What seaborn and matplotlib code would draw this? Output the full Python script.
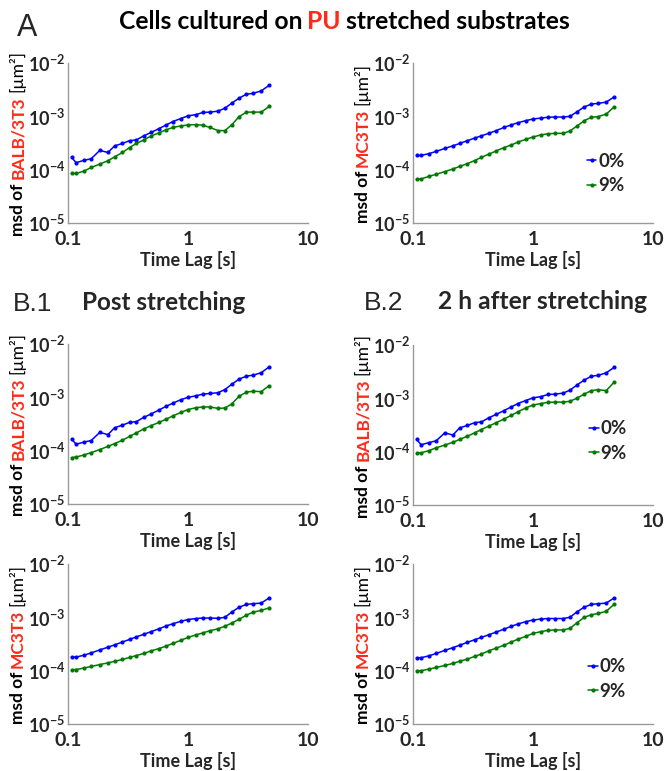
import numpy as np
import pandas as pd
import seaborn as sns
import matplotlib.pyplot as plt

sns.set_style("white")
plt.rcParams["font.family"] = ["Lato", "DejaVu Sans"]
plt.rcParams["font.weight"] = "bold"
plt.rcParams["mathtext.fontset"] = "custom"
plt.rcParams["mathtext.rm"] = "Lato:bold"
plt.rcParams["mathtext.bf"] = "Lato:bold"
plt.rcParams["mathtext.default"] = "bf"

RED = "#ff2a1a"
BLUE = "#0000ff"
GREEN = "#007a00"

# time lag [s]
lag = [0.107, 0.117, 0.136, 0.156, 0.184, 0.215, 0.245, 0.284, 0.326, 0.371,
       0.427, 0.494, 0.574, 0.659, 0.75, 0.87, 1.0, 1.17, 1.33, 1.52,
       1.78, 2.03, 2.31, 2.67, 3.07, 3.49, 4.08, 4.73]

# A - cells cultured on stretched PU
balb_a_0 = [1.70e-4, 1.35e-4, 1.50e-4, 1.60e-4, 2.3e-4, 2.1e-4, 2.8e-4, 3.1e-4, 3.5e-4, 3.6e-4,
            4.3e-4, 5.0e-4, 5.9e-4, 6.9e-4, 8.0e-4, 9.1e-4, 1.02e-3, 1.08e-3, 1.18e-3, 1.2e-3,
            1.25e-3, 1.42e-3, 1.76e-3, 2.2e-3, 2.6e-3, 2.7e-3, 3.0e-3, 3.8e-3]
balb_a_9 = [8.5e-5, 8.5e-5, 9.4e-5, 1.1e-4, 1.27e-4, 1.47e-4, 1.74e-4, 2.1e-4, 2.6e-4, 3.1e-4,
            3.6e-4, 4.3e-4, 4.9e-4, 5.6e-4, 6.2e-4, 6.6e-4, 6.9e-4, 7.0e-4, 6.8e-4, 6.2e-4,
            5.4e-4, 5.4e-4, 6.9e-4, 9.9e-4, 1.2e-3, 1.2e-3, 1.2e-3, 1.53e-3]
mc_a_0 = [1.85e-4, 1.85e-4, 2.0e-4, 2.2e-4, 2.5e-4, 2.8e-4, 3.1e-4, 3.5e-4, 3.9e-4, 4.3e-4,
          4.8e-4, 5.4e-4, 6.2e-4, 6.9e-4, 7.6e-4, 8.3e-4, 8.9e-4, 9.3e-4, 9.6e-4, 9.7e-4,
          9.7e-4, 1.0e-3, 1.2e-3, 1.5e-3, 1.7e-3, 1.75e-3, 1.85e-3, 2.3e-3]
mc_a_9 = [6.6e-5, 6.7e-5, 7.5e-5, 8.2e-5, 9.2e-5, 1.03e-4, 1.15e-4, 1.3e-4, 1.48e-4, 1.7e-4,
          1.95e-4, 2.25e-4, 2.6e-4, 2.9e-4, 3.3e-4, 3.7e-4, 4.1e-4, 4.5e-4, 4.7e-4, 4.8e-4,
          4.8e-4, 5.3e-4, 6.5e-4, 8.3e-4, 9.6e-4, 9.9e-4, 1.1e-3, 1.5e-3]

# B.1 - post stretching
balb_b1_0 = [1.65e-4, 1.32e-4, 1.45e-4, 1.55e-4, 2.2e-4, 2.0e-4, 2.7e-4, 3.0e-4, 3.4e-4, 3.5e-4,
             4.2e-4, 4.9e-4, 5.8e-4, 6.8e-4, 7.8e-4, 9.0e-4, 1.0e-3, 1.07e-3, 1.15e-3, 1.18e-3,
             1.22e-3, 1.4e-3, 1.75e-3, 2.2e-3, 2.5e-3, 2.6e-3, 2.9e-3, 3.7e-3]
balb_b1_9 = [7.4e-5, 7.6e-5, 8.3e-5, 9.2e-5, 1.05e-4, 1.2e-4, 1.36e-4, 1.57e-4, 1.85e-4, 2.15e-4,
             2.55e-4, 2.95e-4, 3.4e-4, 3.9e-4, 4.5e-4, 5.2e-4, 5.9e-4, 6.4e-4, 6.6e-4, 6.6e-4,
             6.2e-4, 6.3e-4, 7.5e-4, 1.05e-3, 1.25e-3, 1.3e-3, 1.28e-3, 1.65e-3]
mc_b1_0 = [1.8e-4, 1.8e-4, 1.95e-4, 2.15e-4, 2.45e-4, 2.75e-4, 3.05e-4, 3.45e-4, 3.85e-4, 4.3e-4,
           4.8e-4, 5.4e-4, 6.1e-4, 6.9e-4, 7.6e-4, 8.4e-4, 9.1e-4, 9.5e-4, 9.7e-4, 9.7e-4,
           9.6e-4, 1.0e-3, 1.25e-3, 1.55e-3, 1.75e-3, 1.8e-3, 1.85e-3, 2.3e-3]
mc_b1_9 = [1.04e-4, 1.05e-4, 1.12e-4, 1.2e-4, 1.3e-4, 1.4e-4, 1.5e-4, 1.62e-4, 1.77e-4, 1.92e-4,
           2.1e-4, 2.35e-4, 2.6e-4, 2.9e-4, 3.25e-4, 3.7e-4, 4.2e-4, 4.7e-4, 5.1e-4, 5.6e-4,
           6.1e-4, 6.8e-4, 7.8e-4, 9.2e-4, 1.1e-3, 1.25e-3, 1.35e-3, 1.5e-3]

# B.2 - 2 h after stretching
balb_b2_0 = [1.70e-4, 1.35e-4, 1.48e-4, 1.6e-4, 2.25e-4, 2.05e-4, 2.8e-4, 3.1e-4, 3.5e-4, 3.6e-4,
             4.3e-4, 5.0e-4, 5.9e-4, 6.9e-4, 8.0e-4, 9.1e-4, 1.02e-3, 1.08e-3, 1.18e-3, 1.2e-3,
             1.25e-3, 1.42e-3, 1.76e-3, 2.2e-3, 2.6e-3, 2.7e-3, 3.0e-3, 3.8e-3]
balb_b2_9 = [9.3e-5, 9.5e-5, 1.05e-4, 1.18e-4, 1.33e-4, 1.5e-4, 1.7e-4, 1.95e-4, 2.25e-4, 2.6e-4,
             3.0e-4, 3.5e-4, 4.1e-4, 4.8e-4, 5.6e-4, 6.6e-4, 7.5e-4, 8.0e-4, 8.4e-4, 8.5e-4,
             8.5e-4, 8.8e-4, 1.0e-3, 1.2e-3, 1.4e-3, 1.45e-3, 1.4e-3, 2.0e-3]
mc_b2_0 = [1.75e-4, 1.75e-4, 1.9e-4, 2.1e-4, 2.4e-4, 2.7e-4, 3.0e-4, 3.4e-4, 3.8e-4, 4.2e-4,
           4.7e-4, 5.3e-4, 6.0e-4, 6.8e-4, 7.5e-4, 8.3e-4, 8.9e-4, 9.3e-4, 9.5e-4, 9.5e-4,
           9.5e-4, 1.0e-3, 1.25e-3, 1.55e-3, 1.75e-3, 1.8e-3, 1.85e-3, 2.3e-3]
mc_b2_9 = [1.0e-4, 1.0e-4, 1.07e-4, 1.15e-4, 1.25e-4, 1.37e-4, 1.5e-4, 1.65e-4, 1.85e-4, 2.05e-4,
           2.35e-4, 2.65e-4, 3.0e-4, 3.45e-4, 3.9e-4, 4.4e-4, 5.0e-4, 5.4e-4, 5.7e-4, 5.8e-4,
           5.8e-4, 6.2e-4, 7.8e-4, 1.0e-3, 1.12e-3, 1.18e-3, 1.3e-3, 1.75e-3]

xticks = [0.1, 1, 10]
xticklabels = ["0.1", "1", "10"]
yticks = [1e-5, 1e-4, 1e-3, 1e-2]
yticklabels = [r"$10^{-5}$", r"$10^{-4}$", r"$10^{-3}$", r"$10^{-2}$"]

W, H = 665, 771
fig = plt.figure(figsize=(W / 100, H / 100), dpi=100)


def add_ax(left, top, w=240, h=160):
    return fig.add_axes([left / W, 1 - (top + h) / H, w / W, h / H])


def draw_panel(ax, y0, y9, legend_pos=None):
    df = pd.DataFrame({"lag": lag * 2, "msd": y0 + y9,
                       "stretch": ["0%"] * len(lag) + ["9%"] * len(lag)})
    sns.lineplot(data=df, x="lag", y="msd", hue="stretch",
                 palette={"0%": BLUE, "9%": GREEN}, marker="o", markersize=3,
                 markeredgewidth=0, linewidth=1.1, ax=ax, legend=False)
    ax.set_xscale("log")
    ax.set_yscale("log")
    ax.set_xlim(0.1, 10)
    ax.set_ylim(1e-5, 1e-2)
    ax.set_xticks(xticks, labels=xticklabels)
    ax.set_yticks(yticks, labels=yticklabels)
    ax.minorticks_off()
    ax.tick_params(length=0, labelsize=13)
    ax.tick_params(axis="y", pad=2)
    ax.tick_params(axis="x", pad=6, labelsize=14)
    for t in ax.get_xticklabels():
        t.set_fontweight("bold")
    sns.despine(ax=ax)
    for s in ("left", "bottom"):
        ax.spines[s].set_color("#9a9a9a")
        ax.spines[s].set_linewidth(1.0)
    ax.set_xlabel("Time Lag [s]", fontsize=13, fontweight="bold", labelpad=2)
    ax.set_ylabel("")
    if legend_pos is not None:
        lines = ax.get_lines()[:2]
        ax.legend(lines, ["0%", "9%"], loc="center left", bbox_to_anchor=legend_pos,
                  frameon=False, handlelength=0.5, handletextpad=0.1,
                  labelspacing=0.4, borderpad=0, borderaxespad=0,
                  prop={"size": 13.5, "weight": "bold"})


panels = [
    (add_ax(68, 63), balb_a_0, balb_a_9, "BALB/3T3", None),
    (add_ax(413, 63), mc_a_0, mc_a_9, "MC3T3", (0.725, 0.31)),
    (add_ax(68, 344), balb_b1_0, balb_b1_9, "BALB/3T3", None),
    (add_ax(413, 345), balb_b2_0, balb_b2_9, "BALB/3T3", (0.735, 0.40)),
    (add_ax(68, 564), mc_b1_0, mc_b1_9, "MC3T3", None),
    (add_ax(413, 564), mc_b2_0, mc_b2_9, "MC3T3", (0.73, 0.28)),
]
for ax, y0, y9, cell, lp in panels:
    draw_panel(ax, y0, y9, lp)

fig.canvas.draw()
renderer = fig.canvas.get_renderer()


def multicolor(parts, x, y, vertical=False, size=12.5, gap=4):
    # parts: (text, color, weight) drawn one after another; x, y in pixels from top-left
    # vertical: x is the right edge of the rotated text, y its centre
    texts = []
    for s, c, w in parts:
        if vertical:
            t = fig.text(0, 0, s, color=c, fontsize=size, fontweight=w,
                         rotation=90, ha="right", va="bottom")
        else:
            t = fig.text(0, 0, s, color=c, fontsize=size, fontweight=w,
                         rotation_mode="anchor", ha="left", va="baseline")
        texts.append(t)
    sizes = []
    for t in texts:
        bb = t.get_window_extent(renderer)
        sizes.append(bb.height if vertical else bb.width)
    total = sum(sizes) + gap * (len(sizes) - 1)
    pos = -total / 2
    for t, sz in zip(texts, sizes):
        if vertical:
            t.set_position((x / W, 1 - y / H + pos / H))
        else:
            t.set_position((x / W + pos / W, 1 - y / H))
        pos += sz + gap


for ax, y0, y9, cell, lp in panels:
    bb = ax.get_position()
    # keep the label clear of the tick labels
    tick_left = min(t.get_window_extent(renderer).x0 for t in ax.get_yticklabels())
    cx = tick_left - 2
    cy = (1 - (bb.y0 + bb.y1) / 2) * H
    multicolor([("msd of", "black", "bold"), (cell, RED, "bold"),
                ("[\u00b5m\u00b2]", "black", "normal")], cx, cy, vertical=True, size=12.5)

multicolor([("Cells cultured on", "black", "bold"), ("PU", RED, "bold"),
            ("stretched substrates", "black", "bold")], 344, 29, size=17.7, gap=5)

fig.text(17 / W, 1 - 28 / H, "A", fontsize=22, fontweight="normal",
         family="Liberation Sans", va="center", ha="left")
fig.text(13 / W, 1 - 304 / H, "B.1", fontsize=19, fontweight="normal",
         family="Liberation Sans", va="center", ha="left")
fig.text(82 / W, 1 - 303 / H, "Post stretching", fontsize=17.5, fontweight="bold",
         va="center", ha="left")
fig.text(364 / W, 1 - 303 / H, "B.2", fontsize=19, fontweight="normal",
         family="Liberation Sans", va="center", ha="left")
fig.text(438 / W, 1 - 302 / H, "2 h after stretching", fontsize=17.7, fontweight="bold",
         va="center", ha="left")

fig.savefig("out.png", dpi=100)
